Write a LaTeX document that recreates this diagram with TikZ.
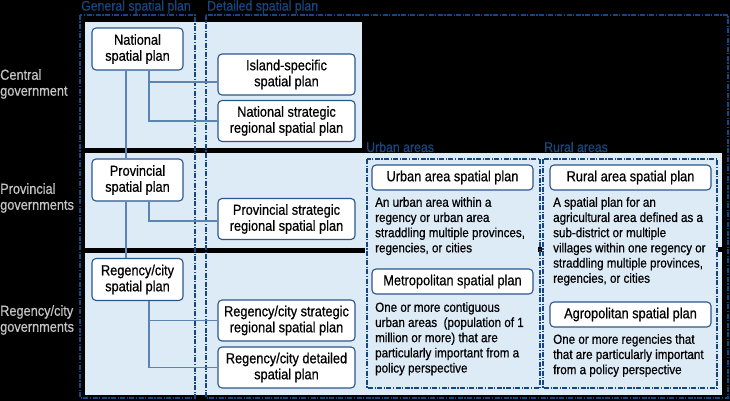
\documentclass[tikz,border=0pt]{standalone}
\usepackage{fontspec}
\setmainfont{Liberation Sans}[FakeStretch=0.88,FakeBold=0.6]
\usetikzlibrary{positioning}
\definecolor{panelblue}{HTML}{DDEBF7}
\definecolor{frameblue}{HTML}{174780}
\definecolor{boxline}{HTML}{2B5689}
\definecolor{linkblue}{HTML}{5B84B1}
\definecolor{labelgrey}{HTML}{C4C4C4}
\tikzset{
  plan/.style={draw=boxline, line width=1.1pt, fill=white, rounded corners=4pt,
    align=center, inner sep=0pt, font=\fontsize{14.5pt}{16pt}\selectfont},
  govplan/.style={plan, minimum width=91pt, minimum height=42pt},
  subplan/.style={plan, minimum width=137pt, minimum height=41pt},
  areaplan/.style={plan, minimum width=161pt, minimum height=25pt},
  desc/.style={anchor=north west, align=left, inner sep=0pt,
    font=\fontsize{13.2pt}{15.2pt}\selectfont},
  link/.style={draw=linkblue, line width=1.4pt},
  dashdot/.style={draw=frameblue, line width=1.7pt,
    dash pattern=on 5pt off 1.5pt on 1.2pt off 1.5pt},
  header/.style={anchor=west, inner sep=0pt, text=frameblue,
    font=\fontsize{14pt}{16pt}\selectfont},
  gov/.style={anchor=west, align=left, inner sep=0pt, text=labelgrey,
    font=\fontsize{14.5pt}{16pt}\selectfont}
}
\begin{document}
\begin{tikzpicture}[x=1pt,y=-1pt]
        % background and panels
        \fill[black] (0,0) rectangle (730,401);
        \useasboundingbox (0,0) rectangle (730,401);
        \fill[panelblue] (85,22) rectangle (362,148);
        \fill[panelblue] (85,153) rectangle (722,248);
        \fill[panelblue] (85,253) rectangle (722,395);
        \fill[panelblue] (365,153) rectangle (722,395);
        \fill[black] (538,247) rectangle (542,252);
        \fill[black] (718,247) rectangle (722,252);
        \draw[dashdot] (80,15) rectangle (195,398);
        \draw[dashdot] (206,15) rectangle (728,398);
        \draw[dashdot] (367,159) rectangle (540,388);
        \draw[dashdot] (543,159) rectangle (717,388);
        % headings
        \node[header] (general) at (81,7) {General spatial plan};
        \node[header] (detailed) at (207,7) {Detailed spatial plan};
        \node[header] (urbanlbl) at (366,147) {Urban areas};
        \node[header] (rurallbl) at (544,147) {Rural areas};
        \node[gov] (central) at (0,84) {Central\\government};
        \node[gov] (provgov) at (0,198) {Provincial\\governments};
        \node[gov] (reggov) at (0,320) {Regency/city\\governments};
        % plans
        \node[govplan] (national) at (137.5,49) {National\\spatial plan};
        \node[subplan] (island) at (286.5,74.5) {Island-specific\\spatial plan};
        \node[subplan] (natstrat) at (286.5,121) {National strategic\\regional spatial plan};
        \node[govplan] (provincial) at (137.5,180) {Provincial\\spatial plan};
        \node[subplan] (provstrat) at (286.5,219) {Provincial strategic\\regional spatial plan};
        \node[govplan] (regency) at (137.5,279.5) {Regency/city\\spatial plan};
        \node[subplan] (regstrat) at (286.5,320.5) {Regency/city strategic\\regional spatial plan};
        \node[subplan] (regdetail) at (286.5,367.5) {Regency/city detailed\\spatial plan};
        \draw[link] ([xshift=-11.5pt]national.south) -- ([xshift=-11.5pt]provincial.north);
        \draw[link] ([xshift=-11.5pt]provincial.south) -- ([xshift=-11.5pt]regency.north);
        \draw[link] ([xshift=11.5pt]national.south) |- ([yshift=-7.5pt]island.west);
        \draw[link] ([xshift=11.5pt]national.south) |- (natstrat.west);
        \draw[link] ([xshift=11.5pt]provincial.south) |- ([yshift=-2pt]provstrat.west);
        \draw[link] ([xshift=11.5pt]regency.south) |- (regstrat.west);
        \draw[link] ([xshift=11.5pt]regency.south) |- (regdetail.west);
        % urban and rural areas
        \node[areaplan] (urban) at (452.5,177.5) {Urban area spatial plan};
        \node[desc] (urbandesc) at (375,197) {An urban area within a\\regency or urban area\\straddling multiple provinces,\\regencies, or cities};
        \node[areaplan] (metro) at (452.5,281.5) {Metropolitan spatial plan};
        \node[desc] (metrodesc) at (375,302) {One or more contiguous\\urban areas~ (population of 1\\million or more) that are\\particularly important from a\\policy perspective};
        \node[areaplan] (rural) at (630.5,177.5) {Rural area spatial plan};
        \node[desc] (ruraldesc) at (553,197) {A spatial plan for an\\agricultural area defined as a\\sub-district or multiple\\villages within one regency or\\straddling multiple provinces,\\regencies, or cities};
        \node[areaplan] (agro) at (630.5,314.5) {Agropolitan spatial plan};
        \node[desc] (agrodesc) at (553,334) {One or more regencies that\\that are particularly important\\from a policy perspective};
\end{tikzpicture}
\end{document}
